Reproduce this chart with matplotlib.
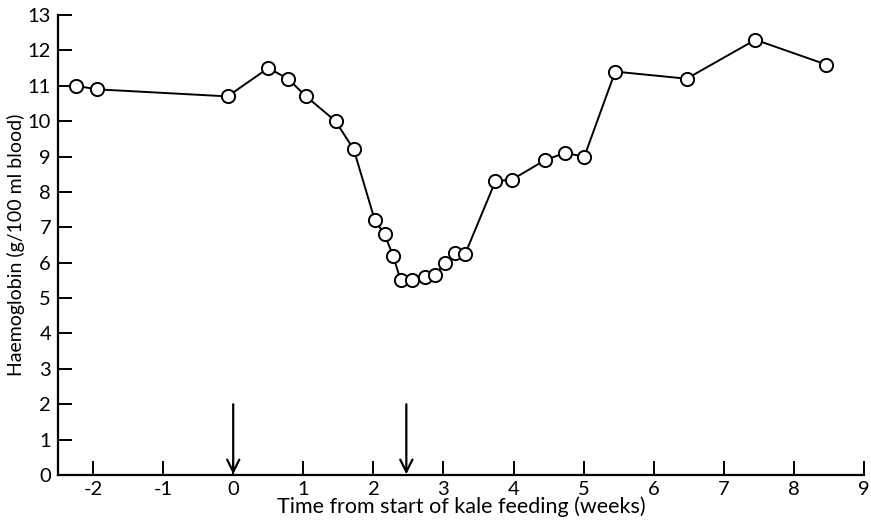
import matplotlib
matplotlib.use("Agg")
import matplotlib.pyplot as plt

weeks = [-2.24, -1.95, -0.08, 0.50, 0.78, 1.04, 1.46, 1.72, 2.02, 2.16, 2.28,
         2.39, 2.55, 2.73, 2.88, 3.02, 3.16, 3.31, 3.74, 3.98, 4.45, 4.73, 5.01,
         5.45, 6.47, 7.45, 8.46]
haemoglobin = [11.0, 10.9, 10.7, 11.5, 11.2, 10.7, 10.0, 9.2, 7.2, 6.8, 6.2,
               5.5, 5.5, 5.6, 5.65, 6.0, 6.28, 6.25, 8.3, 8.35, 8.9, 9.1, 9.0,
               11.4, 11.2, 12.3, 11.6]
arrow_weeks = [0.0, 2.47]
arrow_top = 2.0
xticks = [-2, -1, 0, 1, 2, 3, 4, 5, 6, 7, 8, 9]
yticks = list(range(0, 14))

plt.rcParams['font.family'] = ['Lato', 'DejaVu Sans']

fig = plt.figure(figsize=(8.71, 5.23), dpi=100)
ax = fig.add_axes([58/871, 1-475/523, 806/871, 460/523])

ax.plot(weeks, haemoglobin, color='black', lw=1.4, marker='o', ms=9.5,
        mfc='white', mec='black', mew=1.4, zorder=3, clip_on=False)

for xa in arrow_weeks:
    ax.annotate('', xy=(xa, 0.02), xytext=(xa, arrow_top),
                arrowprops=dict(arrowstyle='->', color='black', lw=1.6,
                                mutation_scale=22, shrinkA=0, shrinkB=0))

ax.set_xlim(-2.5, 9.0)
ax.set_ylim(0, 13)
ax.set_xticks(xticks)
ax.set_xticklabels([str(t) for t in xticks])
ax.set_yticks(yticks)
ax.set_yticklabels([str(t) for t in yticks])

for s in ['top', 'right']:
    ax.spines[s].set_visible(False)
for s in ['left', 'bottom']:
    ax.spines[s].set_linewidth(1.6)

ax.tick_params(axis='both', direction='in', length=10, width=1.4,
               labelsize=14.5, colors='black')
ax.tick_params(axis='x', pad=4)
ax.tick_params(axis='y', pad=5)

ax.set_xlabel('Time from start of kale feeding (weeks)', fontsize=15.5, labelpad=-1)
ax.set_ylabel('Haemoglobin (g/100 ml blood)', fontsize=14, labelpad=2)

fig.savefig('out.png', dpi=100)
